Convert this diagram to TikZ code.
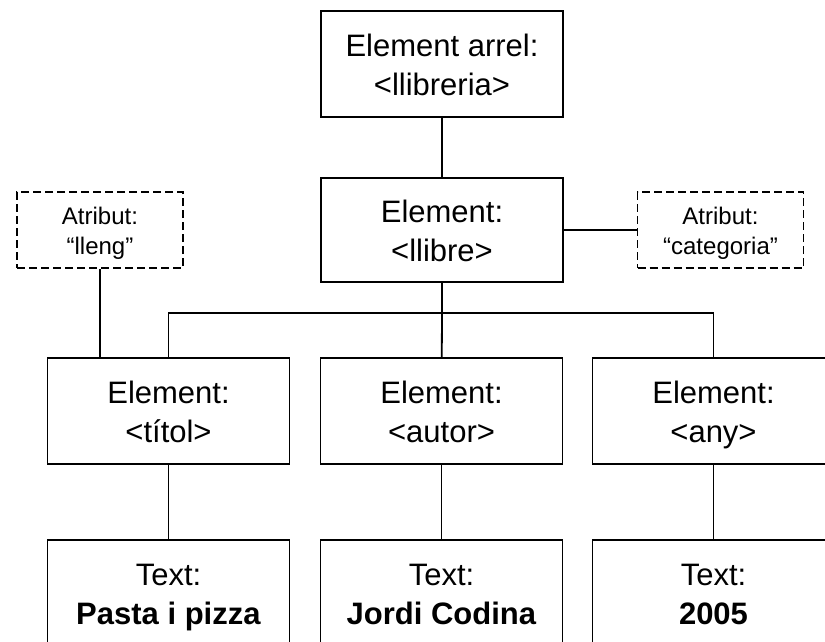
\documentclass[tikz,border=0pt]{standalone}
\usepackage{fontspec}
\setmainfont{Liberation Sans}
% two centred lines with fixed struts, so every box sets its text alike
\newcommand\mainlines[2]{\rule{0pt}{30pt}#1\\#2\rule[-6pt]{0pt}{6pt}}
\newcommand\attrlines[2]{\rule{0pt}{24pt}#1\\#2\rule[-4pt]{0pt}{4pt}}
\begin{document}
\begin{tikzpicture}[x=1pt,y=-1pt,
  line width=1.8pt,
  elem/.style={draw, inner sep=0pt, minimum width=242pt, minimum height=106pt,
    align=center, font=\fontsize{31}{39}\selectfont},
  attr/.style={draw, dash pattern=on 8pt off 4pt, inner sep=0pt,
    minimum width=166pt, minimum height=76pt,
    align=center, font=\fontsize{24}{30}\selectfont}]
  \useasboundingbox (0,0) rectangle (825,642);
  \clip (0,0) rectangle (825,642);

  % root and book elements
  \node[elem] (root) at (442,64) {\mainlines{Element arrel:}{<llibreria>}};
  \node[elem, minimum height=104pt] (llibre) at (442,230) {\mainlines{Element:}{<llibre>}};

  % attributes of the book element
  \node[attr] (lleng) at (100,230) {\attrlines{Atribut:}{“lleng”}};
  \node[attr] (categoria) at (720.5,230) {\attrlines{Atribut:}{“categoria”}};

  % child elements
  \node[elem] (titol) at (168.5,411) {\mainlines{Element:}{<títol>}};
  \node[elem] (autor) at (441.5,411) {\mainlines{Element:}{<autor>}};
  \node[elem] (any)   at (713.5,411) {\mainlines{Element:}{<any>}};

  % text contents
  \node[elem] (ttitol) at (168.5,593) {\mainlines{Text:}{\textbf{Pasta i pizza}}};
  \node[elem] (tautor) at (441.5,593) {\mainlines{Text:}{\textbf{Jordi Codina}}};
  \node[elem] (tany)   at (713.5,593) {\mainlines{Text:}{\textbf{2005}}};

  % connectors
  \coordinate (bus) at (442,313);
  \draw (root) -- (llibre);
  \draw (llibre) -- (categoria);
  \draw (lleng) -- (lleng |- titol.north);
  \draw (llibre) -- (bus);
  \draw (titol) |- (bus) -| (any);
  \draw (bus) -- (autor);
  \draw (titol) -- (ttitol);
  \draw (autor) -- (tautor);
  \draw (any) -- (tany);
\end{tikzpicture}
\end{document}
